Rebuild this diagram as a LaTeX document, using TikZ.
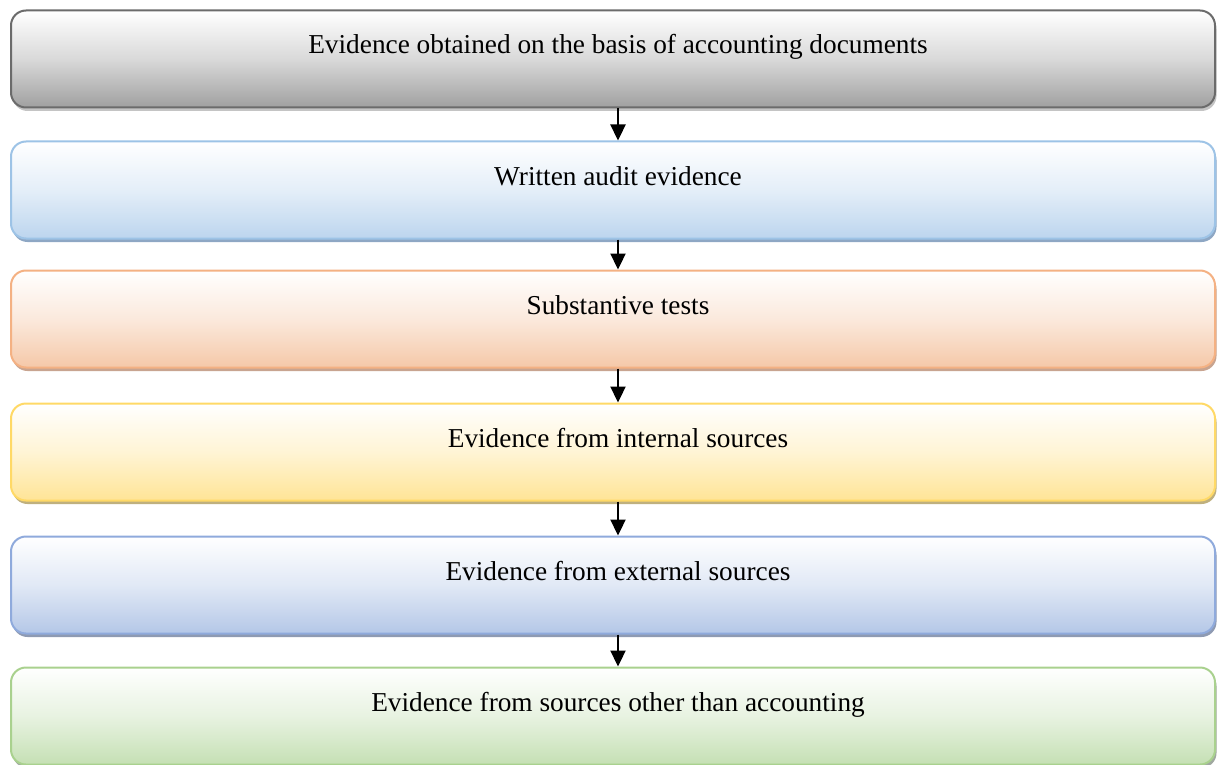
\documentclass[tikz,border=0pt]{standalone}
\usepackage{fontspec}
\setmainfont{Liberation Serif}
\usetikzlibrary{shadows,arrows.meta}
\definecolor{gB}{HTML}{6B6B6B}\definecolor{gF}{HTML}{A0A0A0}\definecolor{gS}{HTML}{C4C4C4}
\definecolor{bB}{HTML}{9DC3E6}\definecolor{bF}{HTML}{BCD5EE}\definecolor{bS}{HTML}{8EA7C4}
\definecolor{oB}{HTML}{F4B183}\definecolor{oF}{HTML}{F5C8A8}\definecolor{oS}{HTML}{C8A490}
\definecolor{yB}{HTML}{FFD966}\definecolor{yF}{HTML}{FFE496}\definecolor{yS}{HTML}{BFB07E}
\definecolor{cB}{HTML}{8FAADC}\definecolor{cF}{HTML}{B4C7E7}\definecolor{cS}{HTML}{8E9AB2}
\definecolor{nB}{HTML}{A9D18E}\definecolor{nF}{HTML}{C5E0B4}\definecolor{nS}{HTML}{A0A8A0}
\tikzset{
  x=1pt,y=-1pt,
  boxst/.style n args={3}{draw=#1, line width=2pt, rounded corners=15pt,
     minimum width=1204pt, minimum height=97pt, inner sep=0pt,
     top color=white, bottom color=#2, middle color=#2!40!white,
     drop shadow={shadow xshift=1.5pt, shadow yshift=-3.5pt, fill=#3, opacity=1}},
  lbl/.style={anchor=base, inner sep=0pt, font=\fontsize{27.3}{32}\selectfont},
  arr/.style={line width=2.3pt, -{Triangle[width=15pt,length=16pt]}}
}
\begin{document}
\begin{tikzpicture}
\useasboundingbox (0,0) rectangle (1218,765);
\node[boxst={gB}{gF}{gS}] (b1) at (613,59) {};
\node[boxst={bB}{bF}{bS}] (b2) at (613,190) {};
\node[boxst={oB}{oF}{oS}] (b3) at (613,319) {};
\node[boxst={yB}{yF}{yS}] (b4) at (613,452) {};
\node[boxst={cB}{cF}{cS}] (b5) at (613,585) {};
\node[boxst={nB}{nF}{nS}] (b6) at (613,716) {};
\node[lbl] (t1) at (618,54) {Evidence obtained on the basis of accounting documents};
\node[lbl] (t2) at (618,185) {Written audit evidence};
\node[lbl] (t3) at (618,314) {Substantive tests};
\node[lbl] (t4) at (618,447) {Evidence from internal sources};
\node[lbl] (t5) at (618,580) {Evidence from external sources};
\node[lbl] (t6) at (618,711) {Evidence from sources other than accounting};
\foreach \a/\b in {b1/b2,b2/b3,b3/b4,b4/b5,b5/b6}
  \draw[arr] ([xshift=5pt]\a.south) -- ([xshift=5pt]\b.north);
\end{tikzpicture}
\end{document}
